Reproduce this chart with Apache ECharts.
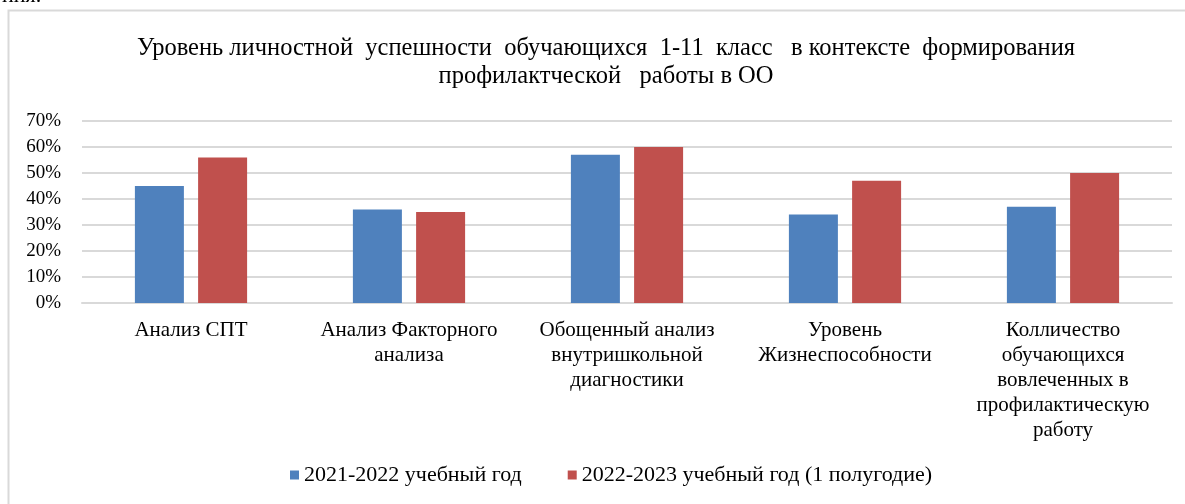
<!DOCTYPE html>
<html>
<head>
<meta charset="utf-8">
<script src="https://cdn.jsdelivr.net/npm/echarts@6/dist/echarts.min.js"></script>
<style>
html,body{margin:0;padding:0;background:#fff;}
#chart{width:1185px;height:504px;}
</style>
</head>
<body>
<div id="chart"></div>
<script>
const titleText = 'Уровень личностной  успешности  обучающихся  1-11  класс   в контексте  формирования\nпрофилактческой   работы в ОО';
const categories = [
  'Анализ СПТ',
  'Анализ Факторного\nанализа',
  'Обощенный анализ\nвнутришкольной\nдиагностики',
  'Уровень\nЖизнеспособности',
  'Колличество\nобучающихся\nвовлеченных в\nпрофилактическую\nработу'
];
const seriesNames = ['2021-2022 учебный год', '2022-2023 учебный год (1 полугодие)'];
const values2021 = [0.45, 0.36, 0.57, 0.34, 0.37];
const values2022 = [0.56, 0.35, 0.60, 0.47, 0.50];
const colors = ['#4F81BD', '#C0504D'];

const serif = '"Liberation Serif", "DejaVu Serif", serif';
const chart = echarts.init(document.getElementById('chart'), null, {renderer: 'canvas'});
chart.setOption({
  animation: false,
  backgroundColor: '#fff',
  title: {
    text: titleText,
    left: 606,
    top: 35,
    padding: 0,
    textAlign: 'center',
    textStyle: {fontFamily: serif, fontSize: 24.5, fontWeight: 'normal', color: '#000', lineHeight: 28}
  },
  graphic: [
    {type: 'rect', shape: {x: 8.5, y: 10.5, width: 1200, height: 600}, style: {fill: 'none', stroke: '#D9D9D9', lineWidth: 2}, silent: true},
    {type: 'text', left: 2, top: -15, style: {text: 'ния.', font: '22px ' + serif, fill: '#000'}, silent: true}
  ],
  legend: {
    data: seriesNames,
    bottom: 13,
    left: 285,
    icon: 'rect',
    itemWidth: 9,
    itemHeight: 9,
    itemGap: 46,
    textStyle: {fontFamily: serif, fontSize: 22, color: '#000'}
  },
  grid: {left: 82, right: 13, top: 121, bottom: 201, containLabel: false},
  xAxis: {
    type: 'category',
    data: categories,
    axisLine: {show: true, lineStyle: {color: '#D9D9D9', width: 2}},
    axisTick: {show: false},
    axisLabel: {fontFamily: serif, fontSize: 21, color: '#000', lineHeight: 25, margin: 15, interval: 0}
  },
  yAxis: {
    type: 'value',
    min: 0,
    max: 0.7,
    interval: 0.1,
    axisLine: {show: false},
    axisTick: {show: false},
    splitLine: {lineStyle: {color: '#D9D9D9', width: 2}},
    axisLabel: {
      fontFamily: serif, fontSize: 19, color: '#000', margin: 21,
      formatter: v => Math.round(v * 100) + '%'
    }
  },
  series: [
    {name: seriesNames[0], type: 'bar', data: values2021, itemStyle: {color: colors[0]}, barWidth: 49, barGap: '29%'},
    {name: seriesNames[1], type: 'bar', data: values2022, itemStyle: {color: colors[1]}, barWidth: 49}
  ]
});
</script>
</body>
</html>
